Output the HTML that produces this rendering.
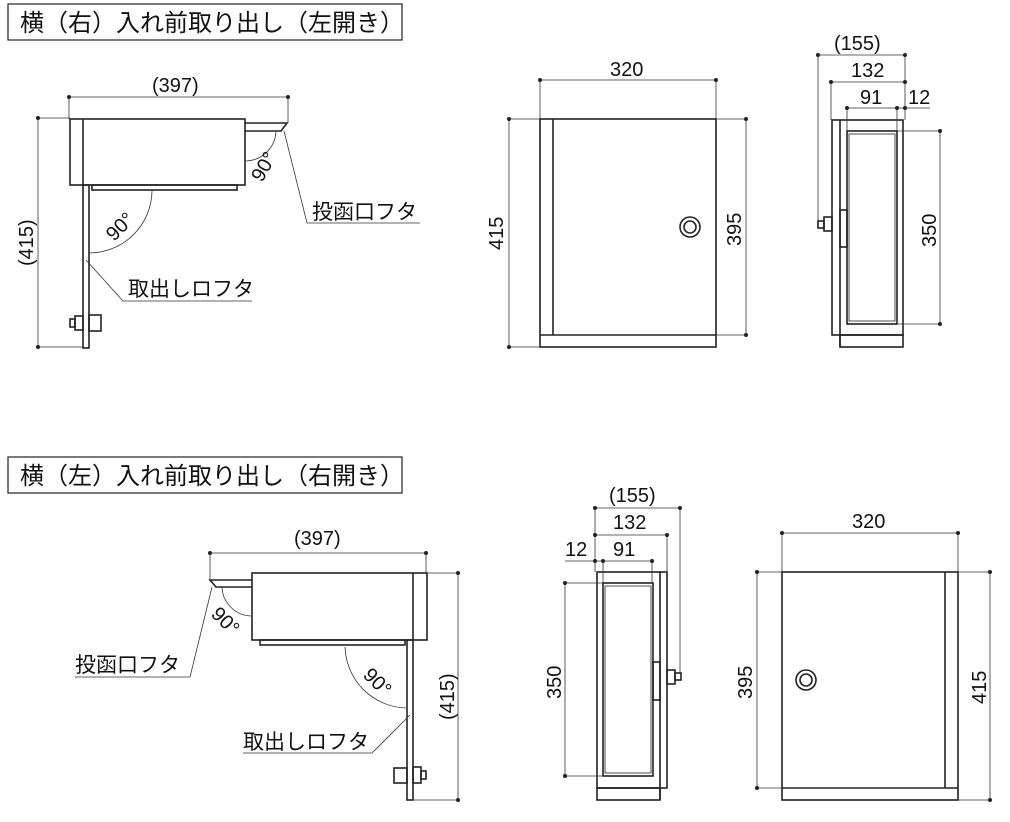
<!DOCTYPE html>
<html><head><meta charset="utf-8"><style>
html,body{margin:0;padding:0;background:#fff}
svg{display:block}
text{font-family:"Liberation Sans","Noto Sans CJK JP",sans-serif;fill:#111}
.n{font-size:20px}
.j{font-size:21px}
</style></head><body>
<svg width="1010" height="822" viewBox="0 0 1010 822" xmlns="http://www.w3.org/2000/svg">
<g fill="none" stroke="#222" stroke-width="1.6">
<rect x="8" y="4" width="394" height="36" stroke-width="1.2"/>
<rect x="8" y="457" width="394" height="36" stroke-width="1.2"/>
</g>
<text x="20" y="31" font-size="24">横（右）入れ前取り出し（左開き）</text>
<text x="20" y="484" font-size="24">横（左）入れ前取り出し（右開き）</text>

<!-- TOP LEFT side view -->
<g fill="none" stroke="#222" stroke-width="1.6">
<rect x="70" y="119" width="175" height="66"/>
<line x1="83" y1="119" x2="83" y2="185"/>
<rect x="92" y="185" width="145" height="5"/>
<path d="M245 123 H287 L281 131 H245"/>
<rect x="83" y="185" width="6" height="163"/>
<rect x="75" y="316" width="8" height="14"/><rect x="70" y="319" width="5" height="8"/>
<rect x="89" y="315" width="12" height="16"/>
</g>
<g fill="none" stroke="#333" stroke-width="0.8">
<line x1="69" y1="97" x2="288" y2="97"/><line x1="69" y1="97" x2="69" y2="119"/><line x1="288" y1="97" x2="288" y2="123"/>
<line x1="38" y1="118" x2="38" y2="347"/><line x1="38" y1="118" x2="70" y2="118"/><line x1="38" y1="347" x2="83" y2="347"/>
<path d="M276 131 A31 31 0 0 1 246 161"/>
<path d="M152 191 A63 63 0 0 1 89 253"/>
<path d="M284 131 L307 223 H420"/>
<path d="M86 260 L123 301 H252"/>
</g>
<g fill="#222"><circle cx="69" cy="97" r="2"/><circle cx="288" cy="97" r="2"/><circle cx="38" cy="118" r="2"/><circle cx="38" cy="347" r="2"/></g>
<text x="152" y="92" class="n">(397)</text>
<text transform="translate(33,266) rotate(-90)" class="n">(415)</text>
<text transform="translate(262,183) rotate(-60)" class="n">90°</text>
<text transform="translate(114,242) rotate(-45)" class="n">90°</text>
<text x="312" y="219" class="j">投函口フタ</text>
<text x="128" y="296" class="j">取出しロフタ</text>

<!-- TOP front view -->
<g fill="none" stroke="#222" stroke-width="1.6">
<rect x="540" y="119" width="176" height="228"/>
<line x1="553" y1="119" x2="553" y2="335"/><line x1="540" y1="335" x2="716" y2="335"/>
<circle cx="690" cy="227" r="10"/><circle cx="690" cy="227" r="6"/>
</g>
<g fill="none" stroke="#333" stroke-width="0.8">
<line x1="540" y1="80" x2="716" y2="80"/><line x1="540" y1="80" x2="540" y2="119"/><line x1="716" y1="80" x2="716" y2="119"/>
<line x1="509" y1="119" x2="509" y2="347"/><line x1="509" y1="119" x2="540" y2="119"/><line x1="509" y1="347" x2="540" y2="347"/>
<line x1="746" y1="119" x2="746" y2="335"/><line x1="716" y1="119" x2="746" y2="119"/><line x1="716" y1="335" x2="746" y2="335"/>
</g>
<g fill="#222"><circle cx="540" cy="80" r="2"/><circle cx="716" cy="80" r="2"/><circle cx="509" cy="119" r="2"/><circle cx="509" cy="347" r="2"/><circle cx="746" cy="119" r="2"/><circle cx="746" cy="335" r="2"/></g>
<text x="610" y="76" class="n">320</text>
<text transform="translate(503,250) rotate(-90)" class="n">415</text>
<text transform="translate(741,246) rotate(-90)" class="n">395</text>

<!-- TOP right side view -->
<g fill="none" stroke="#222" stroke-width="1.6">
<rect x="832" y="120" width="71" height="215"/>
<line x1="840" y1="120" x2="840" y2="347"/><rect x="840" y="335" width="63" height="12"/>
<rect x="847" y="131" width="50" height="193"/><rect x="849" y="134" width="46" height="187" stroke-width="0.8"/>
<rect x="840" y="210" width="7" height="37"/>
<rect x="824" y="217" width="8" height="14"/><rect x="818" y="221" width="6" height="7"/>
</g>
<g fill="none" stroke="#333" stroke-width="0.8">
<line x1="818" y1="55" x2="905" y2="55"/><line x1="818" y1="55" x2="818" y2="222"/><line x1="905" y1="55" x2="905" y2="120"/>
<line x1="831" y1="82" x2="905" y2="82"/><line x1="831" y1="82" x2="831" y2="120"/>
<line x1="847" y1="108" x2="930" y2="108"/><line x1="847" y1="108" x2="847" y2="131"/><line x1="897" y1="108" x2="897" y2="131"/>
<line x1="940" y1="131" x2="940" y2="324"/><line x1="897" y1="131" x2="940" y2="131"/><line x1="897" y1="324" x2="940" y2="324"/>
</g>
<g fill="#222"><circle cx="818" cy="55" r="2"/><circle cx="905" cy="55" r="2"/><circle cx="831" cy="82" r="2"/><circle cx="905" cy="82" r="2"/><circle cx="847" cy="108" r="2"/><circle cx="897" cy="108" r="2"/><circle cx="905" cy="108" r="2"/><circle cx="940" cy="131" r="2"/><circle cx="940" cy="324" r="2"/></g>
<text x="834" y="50" class="n">(155)</text>
<text x="851" y="77" class="n">132</text>
<text x="860" y="104" class="n">91</text>
<text x="908" y="104" class="n">12</text>
<text transform="translate(936,247) rotate(-90)" class="n">350</text>

<!-- BOTTOM side view -->
<g fill="none" stroke="#222" stroke-width="1.6">
<rect x="252" y="573" width="175" height="67"/>
<line x1="413" y1="573" x2="413" y2="640"/>
<rect x="260" y="640" width="145" height="5"/>
<path d="M252 580 H210 L216 587 H252"/>
<rect x="407" y="640" width="6" height="160"/>
<rect x="413" y="767" width="8" height="16"/><rect x="421" y="771" width="5" height="8"/>
<rect x="394" y="768" width="13" height="15"/>
</g>
<g fill="none" stroke="#333" stroke-width="0.8">
<line x1="210" y1="553" x2="426" y2="553"/><line x1="210" y1="553" x2="210" y2="580"/><line x1="426" y1="553" x2="426" y2="573"/>
<line x1="458" y1="573" x2="458" y2="800"/><line x1="427" y1="573" x2="458" y2="573"/><line x1="413" y1="800" x2="458" y2="800"/>
<path d="M222 587 A30 30 0 0 0 251 616"/>
<path d="M345 647 A63 63 0 0 0 406 708"/>
<path d="M212 587 L190 677 H75"/>
<path d="M410 715 L372 753 H243"/>
</g>
<g fill="#222"><circle cx="210" cy="553" r="2"/><circle cx="426" cy="553" r="2"/><circle cx="458" cy="573" r="2"/><circle cx="458" cy="800" r="2"/></g>
<text x="294" y="545" class="n">(397)</text>
<text transform="translate(454,720) rotate(-90)" class="n">(415)</text>
<text transform="translate(210,615) rotate(45)" class="n">90°</text>
<text transform="translate(362,676) rotate(45)" class="n">90°</text>
<text x="75" y="672" class="j">投函口フタ</text>
<text x="243" y="749" class="j">取出しロフタ</text>

<!-- BOTTOM side view (narrow) -->
<g fill="none" stroke="#222" stroke-width="1.6">
<rect x="597" y="572" width="70" height="216"/>
<line x1="660" y1="572" x2="660" y2="800"/><rect x="597" y="788" width="63" height="12"/>
<rect x="603" y="583" width="50" height="193"/><rect x="605" y="586" width="46" height="187" stroke-width="0.8"/>
<rect x="653" y="662" width="7" height="38"/>
<rect x="667" y="670" width="8" height="14"/><rect x="675" y="673" width="6" height="7"/>
</g>
<g fill="none" stroke="#333" stroke-width="0.8">
<line x1="595" y1="508" x2="680" y2="508"/><line x1="595" y1="508" x2="595" y2="572"/><line x1="680" y1="508" x2="680" y2="673"/>
<line x1="595" y1="535" x2="667" y2="535"/><line x1="667" y1="535" x2="667" y2="572"/>
<line x1="565" y1="561" x2="652" y2="561"/><line x1="603" y1="561" x2="603" y2="583"/><line x1="652" y1="561" x2="652" y2="583"/>
<line x1="565" y1="583" x2="565" y2="776"/><line x1="565" y1="583" x2="603" y2="583"/><line x1="565" y1="776" x2="603" y2="776"/>
</g>
<g fill="#222"><circle cx="595" cy="508" r="2"/><circle cx="680" cy="508" r="2"/><circle cx="595" cy="535" r="2"/><circle cx="667" cy="535" r="2"/><circle cx="595" cy="561" r="2"/><circle cx="603" cy="561" r="2"/><circle cx="652" cy="561" r="2"/><circle cx="565" cy="583" r="2"/><circle cx="565" cy="776" r="2"/></g>
<text x="609" y="502" class="n">(155)</text>
<text x="613" y="529" class="n">132</text>
<text x="613" y="556" class="n">91</text>
<text x="565" y="556" class="n">12</text>
<text transform="translate(561,699) rotate(-90)" class="n">350</text>

<!-- BOTTOM front view -->
<g fill="none" stroke="#222" stroke-width="1.6">
<rect x="782" y="572" width="176" height="228"/>
<line x1="945" y1="572" x2="945" y2="788"/><line x1="782" y1="788" x2="958" y2="788"/>
<circle cx="806" cy="680" r="10"/><circle cx="806" cy="680" r="6"/>
</g>
<g fill="none" stroke="#333" stroke-width="0.8">
<line x1="782" y1="533" x2="958" y2="533"/><line x1="782" y1="533" x2="782" y2="572"/><line x1="958" y1="533" x2="958" y2="572"/>
<line x1="757" y1="572" x2="757" y2="788"/><line x1="757" y1="572" x2="782" y2="572"/><line x1="757" y1="788" x2="782" y2="788"/>
<line x1="990" y1="572" x2="990" y2="800"/><line x1="958" y1="572" x2="990" y2="572"/><line x1="958" y1="800" x2="990" y2="800"/>
</g>
<g fill="#222"><circle cx="782" cy="533" r="2"/><circle cx="958" cy="533" r="2"/><circle cx="757" cy="572" r="2"/><circle cx="757" cy="788" r="2"/><circle cx="990" cy="572" r="2"/><circle cx="990" cy="800" r="2"/></g>
<text x="852" y="528" class="n">320</text>
<text transform="translate(752,699) rotate(-90)" class="n">395</text>
<text transform="translate(986,704) rotate(-90)" class="n">415</text>
</svg>
</body></html>
